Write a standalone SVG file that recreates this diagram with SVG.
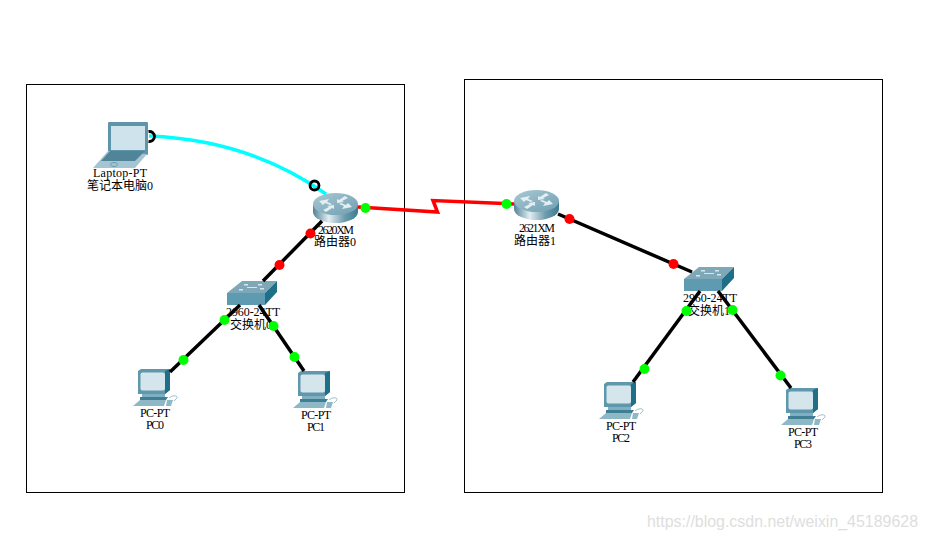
<svg xmlns="http://www.w3.org/2000/svg" width="927" height="540" viewBox="0 0 927 540">
<style>
.frame{fill:none;stroke:#000;stroke-width:1}
.l{font-family:"Liberation Serif",serif;font-size:12px;fill:#000;text-anchor:middle}
.c{font-family:"Liberation Serif","Noto Sans CJK SC",serif;font-size:12px;fill:#000;text-anchor:middle}
.k{fill:none;stroke:#000;stroke-width:3.5}
.r{fill:none;stroke:#f00;stroke-width:3.5}
.y{fill:none;stroke:#0ff;stroke-width:3.5}
.g{fill:#0f0}
.d{fill:#f00}
.o{fill:none;stroke:#000;stroke-width:2.8}
.wm{font-family:"Liberation Sans",sans-serif;font-size:16px;fill:#dedede}
</style>
<defs>
<linearGradient id="rb" x1="0" x2="1" y1="0" y2="0"><stop offset="0" stop-color="#4f8397"/><stop offset=".35" stop-color="#e2edf1"/><stop offset=".7" stop-color="#6d9cae"/><stop offset="1" stop-color="#3f7a8e"/></linearGradient>
<linearGradient id="rt" x1="0" x2="1" y1="0" y2="1"><stop offset="0" stop-color="#a9c8d3"/><stop offset="1" stop-color="#6f9fb1"/></linearGradient>
<symbol id="router" width="45" height="30" viewBox="0 0 45 30" overflow="visible">
<path d="M0,11V19A22.5,11 0 0 0 45,19V11Z" fill="url(#rb)"/>
<ellipse cx="22.5" cy="11" rx="22.5" ry="11" fill="url(#rt)"/>
<path d="M6,8L16,6L14,9L19,11L17,12L12,10L10,12ZM39,14L29,16L31,13L26,11L28,10L33,12L35,10ZM32,3L35,5L29,8L31,9L24,10L24,6L26,7ZM13,19L10,17L16,14L14,13L21,12L21,16L19,15Z" fill="#e4eff3"/>
</symbol>
<symbol id="switch" width="50" height="24" viewBox="0 0 50 24" overflow="visible">
<path d="M0,12L15,0H50L38,12Z" fill="#7ea8b7"/>
<rect x="0" y="12" width="38" height="12" fill="#5e9bb0"/>
<path d="M38,12L50,0V11L38,24Z" fill="#1f6f88"/>
<path d="M17,3h4v1.500h-4ZM31,3h4v1.500h-4ZM12,8h4v1.500h-4ZM33,7h4v1.500h-4ZM20,6h10v1h-10Z" fill="#d8e6ea"/>
</symbol>
<symbol id="laptop" width="55" height="46" viewBox="0 0 55 46" overflow="visible">
<rect x="15" y="0" width="40" height="33" rx="1" fill="#5f95aa"/>
<rect x="18" y="4" width="34" height="24" fill="#cfe3ec"/>
<path d="M15,29L54,32L42,46H0Z" fill="#a5c5d2"/>
<path d="M17,29H52L42,39H8Z" fill="#4f8499"/>
<ellipse cx="21" cy="42.500" rx="3.500" ry="2" fill="none" stroke="#6d9cae"/>
</symbol>
<symbol id="pc" width="45" height="37" viewBox="0 0 45 37" overflow="visible">
<path d="M5,2L8,0H37V21L32,25H5Z" fill="#5f97ac"/>
<path d="M32,2L37,0V21L32,25Z" fill="#1f6f88"/>
<rect x="7.500" y="3.500" width="24.500" height="18" rx="2" fill="#d5e5ec"/>
<rect x="9" y="25" width="23" height="3" fill="#7fb0c2"/>
<path d="M7,28H35L33,31H7Z" fill="#3f7f95"/>
<path d="M7,31H33L31,37H0Z" fill="#8fb8c6"/>
<path d="M34,31H40L38,37H33Z" fill="#8fb8c6"/>
<path d="M36,29C39,26 45,26 44,29L41,32" fill="none" stroke="#9fc0cc"/>
</symbol>
</defs>
<rect width="927" height="540" fill="#fff"/>
<rect class="frame" x="26.500" y="84.500" width="378" height="408"/>
<rect class="frame" x="464.500" y="79.500" width="418" height="413"/>
<g id="laptop0"><use href="#laptop" x="93" y="122"/><text class="l" x="120" y="177" textLength="54" lengthAdjust="spacing">Laptop-PT</text><text class="c" x="120" y="190">笔记本电脑0</text></g>
<g id="router0"><use href="#router" x="313" y="193"/><text class="l" x="336" y="234" textLength="36" lengthAdjust="spacing">2620XM</text><text class="c" x="335" y="246">路由器0</text></g>
<g id="switch0"><use href="#switch" x="227" y="281"/><text class="l" x="253" y="316" textLength="54" lengthAdjust="spacing">2960-24TT</text><text class="c" x="251" y="329">交换机0</text></g>
<g id="pc0"><use href="#pc" x="133" y="369"/><text class="l" x="155" y="417" textLength="30" lengthAdjust="spacing">PC-PT</text><text class="l" x="155" y="429" textLength="18" lengthAdjust="spacing">PC0</text></g>
<g id="pc1"><use href="#pc" x="293" y="371"/><text class="l" x="316" y="419" textLength="30" lengthAdjust="spacing">PC-PT</text><text class="l" x="316" y="431" textLength="18" lengthAdjust="spacing">PC1</text></g>
<g id="router1"><use href="#router" x="514" y="190"/><text class="l" x="537" y="232" textLength="36" lengthAdjust="spacing">2621XM</text><text class="c" x="535" y="245">路由器1</text></g>
<g id="switch1"><use href="#switch" x="684" y="267"/><text class="l" x="710" y="302" textLength="54" lengthAdjust="spacing">2960-24TT</text><text class="c" x="709" y="315">交换机1</text></g>
<g id="pc2"><use href="#pc" x="599" y="382"/><text class="l" x="621" y="430" textLength="30" lengthAdjust="spacing">PC-PT</text><text class="l" x="621" y="442" textLength="18" lengthAdjust="spacing">PC2</text></g>
<g id="pc3"><use href="#pc" x="781" y="388"/><text class="l" x="803" y="436" textLength="30" lengthAdjust="spacing">PC-PT</text><text class="l" x="803" y="448" textLength="18" lengthAdjust="spacing">PC3</text></g>
<g id="connectors">
<path class="y" d="M149,136Q250,140 326,194"/>
<path class="r" d="M358,207L437.500,212L433,200.500L514,204"/>
<path class="k" d="M322,221L263,281"/>
<path class="k" d="M240,305L170,372"/>
<path class="k" d="M259,305L304,371"/>
<path class="k" d="M558,214L692,272"/>
<path class="k" d="M700,291L633,382"/>
<path class="k" d="M718,291L791,388"/>
<path class="o" d="M148.500,131.600A5,5 0 1 1 148.500,141.400"/>
<circle class="o" cx="314.500" cy="185.500" r="4.500"/>
<circle class="g" cx="365.500" cy="208" r="5"/>
<circle class="g" cx="506.500" cy="204" r="5"/>
<circle class="d" cx="310.500" cy="233.500" r="5"/>
<circle class="d" cx="279.500" cy="265" r="5"/>
<circle class="g" cx="224.500" cy="320" r="5"/>
<circle class="g" cx="183.500" cy="360" r="5"/>
<circle class="g" cx="273.500" cy="326" r="5"/>
<circle class="g" cx="294.500" cy="357" r="5"/>
<circle class="d" cx="569.500" cy="219" r="5"/>
<circle class="d" cx="673.500" cy="264" r="5"/>
<circle class="g" cx="686.500" cy="311" r="5"/>
<circle class="g" cx="732.500" cy="310" r="5"/>
<circle class="g" cx="644.500" cy="369" r="5"/>
<circle class="g" cx="780.500" cy="375.500" r="5"/>
</g>
<text class="wm" x="647" y="527" textLength="271" lengthAdjust="spacingAndGlyphs">https://blog.csdn.net/weixin_45189628</text>
</svg>
